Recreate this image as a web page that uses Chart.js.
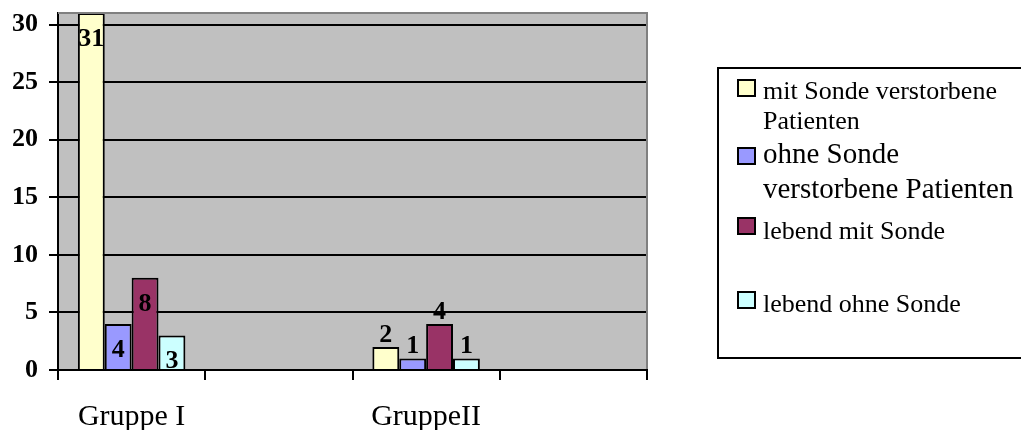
<!DOCTYPE html>
<html>
<head>
<meta charset="utf-8">
<script src="https://cdn.jsdelivr.net/npm/chart.js@4/dist/chart.umd.min.js"></script>
<style>
  html, body { margin: 0; padding: 0; background: #fff; }
  #wrap { width: 1021px; height: 430px; position: relative; }
</style>
</head>
<body>
<div id="wrap"><canvas id="chart" width="1021" height="430"></canvas></div>
<script>
// data
const categories   = ["Gruppe I", "", "GruppeII", ""];
const mitSondeTot  = [31, null, 2, null];
const ohneSondeTot = [4, null, 1, null];
const lebendMit    = [8, null, 4, null];
const lebendOhne   = [3, null, 1, null];
const seriesNames  = [
  ["mit Sonde verstorbene", "Patienten"],
  ["ohne Sonde", "verstorbene Patienten"],
  ["lebend mit Sonde"],
  ["lebend ohne Sonde"]
];
const yTicks = [0, 5, 10, 15, 20, 25, 30];
const yMax   = 31;

const colors = ["#FFFFCC", "#9999FF", "#993366", "#CCFFFF"];
const SERIF  = "'Liberation Serif', 'Times New Roman', serif";

// grey plot background + top/right border
const plotBg = {
  id: "plotBg",
  beforeDraw(chart) {
    const a = chart.chartArea, c = chart.ctx;
    c.save();
    c.fillStyle = "#C0C0C0";
    c.fillRect(a.left, a.top, a.right - a.left, a.bottom - a.top);
    c.restore();
  },
  afterDraw(chart) {
    const a = chart.chartArea, c = chart.ctx;
    c.save();
    c.strokeStyle = "#808080";
    c.lineWidth = 2;
    c.beginPath();
    c.moveTo(a.left, a.top);
    c.lineTo(a.right, a.top);
    c.lineTo(a.right, a.bottom - 1);
    c.stroke();
    c.restore();
  }
};

// value labels: inside for the first group, above for the second
const valueLabels = {
  id: "valueLabels",
  afterDatasetsDraw(chart) {
    const c = chart.ctx;
    c.save();
    c.font = "bold 26px " + SERIF;
    c.fillStyle = "#000";
    c.textAlign = "center";
    c.textBaseline = "middle";
    chart.data.datasets.forEach((ds, i) => {
      chart.getDatasetMeta(i).data.forEach((bar, j) => {
        const v = ds.data[j];
        if (v == null) return;
        const y = j === 0 ? bar.y + 26 : bar.y - 12;
        c.fillText(String(v), bar.x, y);
      });
    });
    c.restore();
  }
};

// boxed legend on the right
const boxLegend = {
  id: "boxLegend",
  afterDraw(chart) {
    const c = chart.ctx;
    const rows = [
      { box: 80,  lines: [92, 122], size: 26 },
      { box: 148, lines: [155, 190], size: 29 },
      { box: 218, lines: [232], size: 26 },
      { box: 292, lines: [305], size: 26 }
    ];
    c.save();
    c.strokeStyle = "#000";
    c.lineWidth = 2;
    c.strokeRect(718, 68, 320, 290);
    c.textBaseline = "middle";
    c.textAlign = "left";
    chart.data.datasets.forEach((ds, i) => {
      const r = rows[i];
      c.fillStyle = ds.backgroundColor;
      c.fillRect(738, r.box, 17, 16);
      c.lineWidth = 2;
      c.strokeRect(738, r.box, 17, 16);
      c.fillStyle = "#000";
      c.font = r.size + "px " + SERIF;
      seriesNames[i].forEach((t, k) => c.fillText(t, 763, r.lines[k]));
    });
    c.restore();
  }
};

const series = [mitSondeTot, ohneSondeTot, lebendMit, lebendOhne];

new Chart(document.getElementById("chart").getContext("2d"), {
  type: "bar",
  data: {
    labels: categories,
    datasets: series.map((d, i) => ({
      label: seriesNames[i].join(" "),
      data: d,
      backgroundColor: colors[i],
      borderColor: "#000",
      borderWidth: 2,
      categoryPercentage: 0.73,
      barPercentage: 1
    }))
  },
  options: {
    responsive: false,
    animation: false,
    devicePixelRatio: 1,
    layout: { padding: { top: 13, right: 374, left: 0, bottom: 0 } },
    plugins: {
      legend: { display: false },
      tooltip: { enabled: false }
    },
    scales: {
      x: {
        offset: true,
        grid: {
          offset: true,
          drawOnChartArea: false,
          color: "#000",
          tickLength: 10,
          lineWidth: 2
        },
        border: { color: "#000", width: 2 },
        ticks: {
          color: "#000",
          font: { family: SERIF, size: 30 },
          padding: 19,
          maxRotation: 0,
          autoSkip: false
        },
        afterFit(scale) {
          scale.height = 60;
          scale.paddingLeft = 0;
          scale.paddingRight = 0;
        }
      },
      y: {
        min: 0,
        max: yMax,
        afterBuildTicks(scale) {
          scale.ticks = yTicks.map(v => ({ value: v }));
        },
        grid: { color: "#000", lineWidth: 2, tickLength: 9 },
        border: { color: "#000", width: 2 },
        ticks: {
          color: "#000",
          font: { family: SERIF, size: 26, weight: "bold" },
          padding: 11
        },
        afterFit(scale) {
          scale.width = 58;
          scale.paddingTop = 0;
          scale.paddingBottom = 0;
        }
      }
    }
  },
  plugins: [plotBg, valueLabels, boxLegend]
});
</script>
</body>
</html>
